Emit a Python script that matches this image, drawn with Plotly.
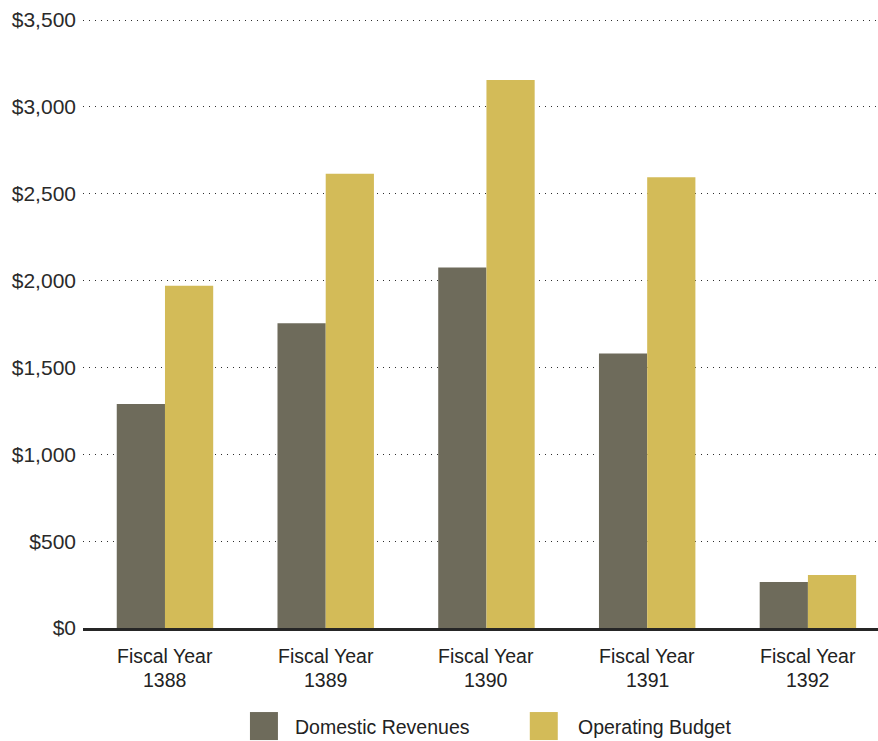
import plotly.graph_objects as go

categories = ["1388", "1389", "1390", "1391", "1392"]
cat_prefix = "Fiscal Year"
domestic_revenues = [1290, 1755, 2075, 1580, 265]
operating_budget = [1970, 2615, 3155, 2595, 305]
series_names = ["Domestic Revenues", "Operating Budget"]
series_colors = ["#6e6b5b", "#d3bb58"]
y_ticks = [0, 500, 1000, 1500, 2000, 2500, 3000, 3500]
y_ticktext = ["$0", "$500", "$1,000", "$1,500", "$2,000", "$2,500", "$3,000", "$3,500"]

LABEL_FONT = "Liberation Sans, Arial, sans-serif"
TICK_FONT = "Liberation Sans, Arial, sans-serif"
LABEL_SIZE = 19.5

fig = go.Figure()
fig.add_trace(go.Bar(x=categories, y=domestic_revenues, name=series_names[0],
                     marker=dict(color=series_colors[0], line=dict(width=0))))
fig.add_trace(go.Bar(x=categories, y=operating_budget, name=series_names[1],
                     marker=dict(color=series_colors[1], line=dict(width=0))))

annotations = []
for i, c in enumerate(categories):
    annotations.append(dict(x=i, xref="x", y=-0.046, yref="paper", text=cat_prefix,
                            showarrow=False, xanchor="center", yanchor="middle",
                            font=dict(family=LABEL_FONT, size=LABEL_SIZE, color="#222222")))
    annotations.append(dict(x=i, xref="x", y=-0.085, yref="paper", text=c,
                            showarrow=False, xanchor="center", yanchor="middle",
                            font=dict(family=LABEL_FONT, size=LABEL_SIZE, color="#222222")))

# manual legend (large squares)
legend_x = [0.210, 0.562]
legend_text_x = [0.2642, 0.6201]
shapes = []
for name, col, lx, tx in zip(series_names, series_colors, legend_x, legend_text_x):
    shapes.append(dict(type="rect", xref="paper", yref="paper",
                       x0=lx, x1=lx + 0.0352, y0=-0.184, y1=-0.138,
                       fillcolor=col, line=dict(width=0)))
    annotations.append(dict(x=tx, xref="paper", y=-0.163, yref="paper",
                            text=name, showarrow=False, xanchor="left", yanchor="middle",
                            font=dict(family=LABEL_FONT, size=LABEL_SIZE, color="#222222")))

fig.update_layout(
    width=878, height=741, autosize=False,
    margin=dict(l=83, r=0, t=19, b=113, pad=0),
    paper_bgcolor="white", plot_bgcolor="white",
    barmode="group", bargap=0.4, bargroupgap=0,
    showlegend=False,
    annotations=annotations, shapes=shapes,
    xaxis=dict(type="category", range=[-0.51, 4.436], showticklabels=False,
               showgrid=False, zeroline=False, ticks="",
               showline=True, linecolor="#262626", linewidth=3),
    yaxis=dict(range=[0, 3506], tickvals=y_ticks, ticktext=y_ticktext,
               showgrid=True, gridcolor="#2e2e2e", gridwidth=1, griddash="1px,5px",
               zeroline=False, showline=False, ticks="", ticklabelstandoff=6,
               tickfont=dict(family=TICK_FONT, size=21, color="#2a2a2a")),
)

fig.write_html("out.html")
